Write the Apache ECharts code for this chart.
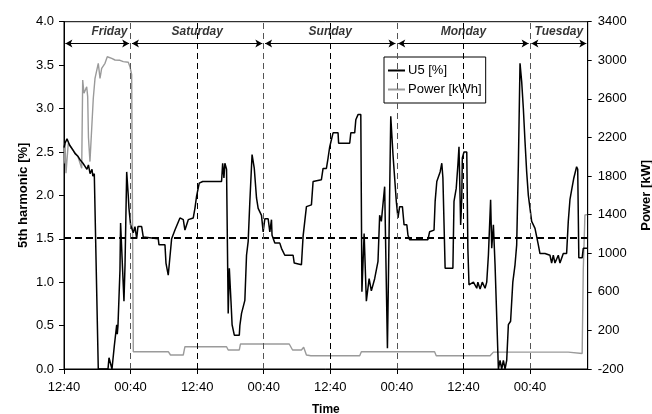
<!DOCTYPE html>
<html>
<head>
<meta charset="utf-8">
<script src="https://cdn.jsdelivr.net/npm/echarts@6/dist/echarts.min.js"></script>
<style>html,body{margin:0;padding:0;background:#fff}#c{width:652px;height:414px}</style>
</head>
<body>
<div id="c"></div>
<script>
// Time in hours since Friday 12:40
const tickLabels = ['12:40', '00:40'];
const dayNames = ['Friday', 'Saturday', 'Sunday', 'Monday', 'Tuesday'];
const dayStart = [0, 12, 36, 60, 84];
const dayEnd = [12, 36, 60, 84, 94.4];
const midnightLines = [12, 36, 60, 84];
const noonLines = [24, 48, 72];
const limitU5 = 1.51;

const u5Series = [
  [0,2.55],[0.18,2.6],[0.54,2.65],[1.0,2.58],[1.62,2.52],[2.0,2.48],[2.52,2.45],[3.0,2.4],[3.42,2.37],[3.6,2.38],
  [4.14,2.3],[4.4,2.35],[4.7,2.25],[5.05,2.3],[5.2,2.22],[5.46,2.25],[6.18,0],[7.93,0],[8.11,0.13],[8.47,0.13],
  [8.65,0],[8.83,0],[9.06,0.26],[9.5,0.51],[9.6,0.4],[9.73,0.5],[10.09,1.14],[10.2,1.68],[10.45,1.7],[10.81,0.78],
  [11.0,1.2],[11.3,2.27],[11.59,1.99],[11.71,1.85],[12.0,1.66],[12.2,1.64],[12.49,1.57],[12.79,1.64],[13.1,1.5],
  [13.33,1.64],[14.0,1.64],[14.29,1.52],[16.99,1.5],[17.12,1.43],[18.2,1.43],[18.38,1.22],[18.56,1.22],[18.79,1.08],
  [19.4,1.5],[20.0,1.6],[20.9,1.74],[21.5,1.72],[21.8,1.6],[22.4,1.72],[23.3,1.74],[23.6,1.85],[23.9,1.99],[24.38,2.14],
  [25.0,2.16],[28.4,2.16],[28.6,2.37],[28.83,2.2],[29.0,2.37],[29.3,2.3],[29.6,0.64],[29.8,1.16],[30.1,0.78],[30.3,0.51],
  [30.7,0.39],[31.6,0.39],[31.7,0.5],[32.0,0.64],[32.3,0.66],[32.6,0.79],[32.9,1.31],[33.2,1.47],[33.5,1.93],[33.9,2.47],
  [34.3,2.31],[34.7,1.97],[35.0,1.85],[35.3,1.85],[35.6,1.77],[35.9,1.58],[36.2,1.73],[36.8,1.73],[37.1,1.58],[37.4,1.72],
  [37.5,1.54],[38.0,1.45],[38.9,1.45],[39.2,1.39],[39.8,1.31],[41.3,1.31],[41.5,1.22],[42.8,1.2],[43.1,1.53],[43.7,1.87],
  [44.6,1.89],[44.9,2.16],[46.4,2.18],[46.7,2.31],[47.3,2.31],[47.6,2.43],[47.9,2.56],[48.5,2.72],[49.4,2.72],[49.5,2.6],
  [51.5,2.6],[51.7,2.72],[52.4,2.72],[52.6,2.87],[53.0,2.93],[53.5,2.93],[53.7,0.89],[54.1,1.56],[54.5,0.78],[55.0,1.04],
  [55.4,0.9],[56.0,1.04],[56.6,1.24],[56.9,1.77],[57.2,1.7],[57.8,2.1],[58.3,0.24],[58.9,2.91],[59.3,2.47],[59.9,1.93],
  [60.2,1.74],[60.5,1.87],[61.0,1.87],[61.3,1.66],[61.8,1.66],[62.0,1.54],[62.3,1.49],[65.6,1.49],[65.9,1.58],[66.7,1.6],
  [66.9,1.93],[67.2,2.16],[67.8,2.27],[68.1,2.37],[68.3,2.2],[68.7,1.16],[70.1,1.16],[70.3,1.93],[70.7,2.08],[71.0,2.35],
  [71.2,2.56],[71.5,1.66],[71.7,1.96],[71.8,2.43],[72.1,2.5],[72.6,2.5],[72.8,1.39],[73.0,0.97],[73.8,1.0],[74.4,0.93],
  [74.6,1.0],[75.0,0.92],[75.4,1.0],[75.9,0.93],[76.2,1.0],[76.5,1.31],[76.9,1.95],[77.1,1.39],[77.4,1.66],[77.7,1.2],
  [78.3,0],[78.6,0.1],[78.9,0],[79.2,0.1],[79.5,0],[79.8,0.1],[80.1,0.51],[80.5,0.55],[80.9,1.0],[81.3,1.2],[81.6,1.43],
  [81.9,2.35],[82.2,3.52],[82.5,3.31],[82.8,3.0],[83.1,2.62],[83.4,2.27],[83.7,2.0],[84.0,1.85],[84.3,1.7],[84.9,1.62],
  [85.5,1.43],[85.8,1.33],[86.7,1.33],[87.6,1.31],[87.9,1.22],[88.2,1.31],[88.5,1.22],[89.1,1.31],[89.4,1.22],[90.0,1.33],
  [90.6,1.33],[90.9,1.7],[91.2,1.95],[91.5,2.06],[91.9,2.2],[92.2,2.2],[92.4,2.33],[92.6,2.3],[92.8,1.28],[93.4,1.28],
  [93.6,1.39],[94.3,1.39]
];

const powerSeries = [
  [0,1930],[0.18,2140],[0.36,1830],[0.77,2140],[1.62,2070],[2.52,2000],[3.19,1880],[3.37,2796],[3.6,2658],[3.78,2640],
  [4.09,2726],[4.27,2623],[4.41,2200],[4.68,1950],[4.99,1950],[5.28,2606],[5.59,2813],[5.89,2830],[6.18,2969],[6.49,2813],
  [6.79,2917],[7.39,2969],[7.8,3037],[8.6,3020],[9.19,3003],[9.5,3020],[10.09,3000],[10.68,2986],[11.59,2980],[11.89,2934],
  [12.2,2850],[12.49,-21],[18.8,-21],[19.2,-55],[21.5,-55],[21.8,31],[29.3,31],[29.6,-3],[31.6,-3],[31.8,59],[40.6,59],
  [41.2,-3],[42.8,-3],[43.2,25],[43.7,-55],[44.5,-62],[53.3,-62],[53.6,-21],[66.8,-21],[67.1,-62],[76.8,-62],[77.4,-25],
  [90.9,-25],[91.2,-40],[93.4,-40],[93.6,826],[93.9,1396],[94.3,1400]
];

const font = 'Liberation Sans, Arial, sans-serif';
const chart = echarts.init(document.getElementById('c'), null, {renderer: 'canvas'});

const arrowY = 3.75, labelY = 3.88;
const dayArrows = dayNames.map((n, i) => [
  {coord: [dayStart[i] + 0.25, arrowY]},
  {coord: [dayEnd[i] - 0.25, arrowY]}
]);
const dayLabelPts = dayNames.map((n, i) => ({
  name: n,
  value: [(dayStart[i] + dayEnd[i]) / 2 + (i === 0 ? 2.2 : 0), labelY]
}));

const option = {
  animation: false,
  textStyle: {fontFamily: font},
  grid: {left: 64, right: 64.3, top: 21.7, bottom: 45, show: true, borderColor: '#000', borderWidth: 1,
    containLabel: false, outerBoundsMode: 'none'},
  legend: {
    data: [{name: 'U5 [%]', icon: 'rect'}, {name: 'Power [kWh]', icon: 'rect'}],
    orient: 'vertical', left: 384, top: 57,
    borderColor: '#000', borderWidth: 1, padding: [7, 4, 7, 4],
    itemWidth: 17, itemHeight: 2, itemGap: 6, backgroundColor: '#fff',
    textStyle: {fontFamily: font, fontSize: 13, color: '#000', padding: [0, 0, 0, -2]}
  },
  xAxis: {
    type: 'value', min: 0, max: 94.4, interval: 12,
    name: 'Time', nameLocation: 'middle', nameGap: 35,
    nameTextStyle: {fontFamily: font, fontSize: 12, fontWeight: 'bold', color: '#000'},
    axisLine: {lineStyle: {color: '#000', width: 1}},
    axisTick: {show: true, length: 5, lineStyle: {color: '#000'}},
    axisLabel: {fontFamily: font, fontSize: 13, color: '#000', margin: 12, showMaxLabel: false,
      formatter: v => tickLabels[Math.round(v / 12) % 2]},
    splitLine: {show: false}
  },
  yAxis: [
    {
      type: 'value', min: 0, max: 4, interval: 0.5,
      name: '5th harmonic [%]', nameLocation: 'middle', nameGap: 34, nameRotate: 90, nameMoveOverlap: false,
      nameTextStyle: {fontFamily: font, fontSize: 13, fontWeight: 'bold', color: '#000'},
      axisLine: {show: true, lineStyle: {color: '#000'}},
      axisTick: {show: true, length: 5, lineStyle: {color: '#000'}},
      axisLabel: {fontFamily: font, fontSize: 13, color: '#000', margin: 10, formatter: v => v.toFixed(1)},
      splitLine: {show: false}
    },
    {
      type: 'value', min: -200, max: 3400, interval: 400,
      name: 'Power [kW]', nameLocation: 'middle', nameGap: 52, nameRotate: 90,
      nameTextStyle: {fontFamily: font, fontSize: 13, fontWeight: 'bold', color: '#000'},
      axisLine: {show: true, lineStyle: {color: '#000'}},
      axisTick: {show: true, length: 4, lineStyle: {color: '#000'}},
      axisLabel: {fontFamily: font, fontSize: 13, color: '#000', margin: 10, formatter: v => String(v)},
      splitLine: {show: false}
    }
  ],
  series: [
    {
      name: 'Power [kWh]', type: 'line', yAxisIndex: 1, data: powerSeries,
      symbol: 'none', lineStyle: {color: '#9a9a9a', width: 1.4}, itemStyle: {color: '#9a9a9a'}
    },
    {
      name: 'U5 [%]', type: 'line', yAxisIndex: 0, data: u5Series,
      symbol: 'none', lineStyle: {color: '#000', width: 1.5}, itemStyle: {color: '#000'},
      z: 3,
      markLine: {
        silent: true, symbol: 'none', label: {show: false},
        lineStyle: {color: '#000', type: [7, 4], width: 1.8},
        data: [{yAxis: limitU5}]
      }
    },
    {
      name: 'grid-lines', type: 'line', yAxisIndex: 0, data: [], silent: true,
      markLine: {
        silent: true, symbol: 'none', label: {show: false},
        data: midnightLines.map(x => ({xAxis: x, lineStyle: {color: '#555', type: [6, 4], width: 1}}))
          .concat(noonLines.map(x => ({xAxis: x, lineStyle: {color: '#000', type: [6, 4], width: 1}})))
      }
    },
    {
      name: 'days', type: 'scatter', yAxisIndex: 0, data: dayLabelPts, symbolSize: 0, silent: true,
      label: {show: true, position: 'inside', formatter: p => p.name,
        fontFamily: font, fontSize: 12, fontWeight: 'bold', fontStyle: 'italic', color: '#000'},
      markLine: {
        silent: true, symbol: ['arrow', 'arrow'], symbolSize: [6, 7], label: {show: false},
        lineStyle: {color: '#000', type: 'solid', width: 1},
        data: dayArrows
      }
    }
  ]
};
chart.setOption(option);
</script>
</body>
</html>
